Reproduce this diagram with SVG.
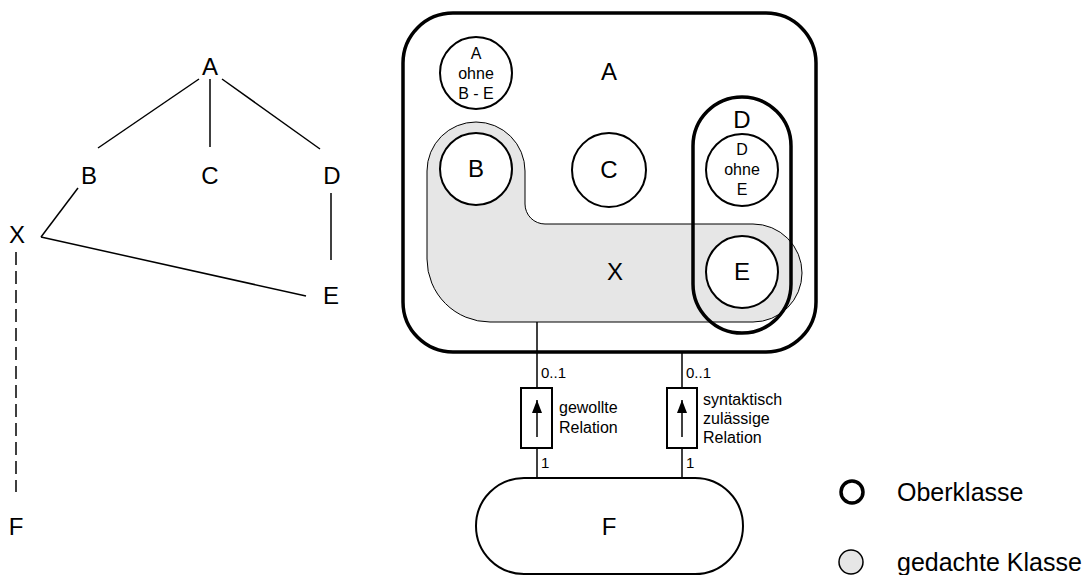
<svg xmlns="http://www.w3.org/2000/svg" width="1089" height="575" viewBox="0 0 1089 575">
<style>
text{font-family:"Liberation Sans",Arial,sans-serif;fill:#000}
.big{font-size:24px;text-anchor:middle}
.sm{font-size:16px;text-anchor:middle}
.lbl{font-size:16px}
.mult{font-size:15px}
.leg{font-size:25px}
.ln{stroke:#000;stroke-width:1.5;fill:none}
.circ{fill:#fff;stroke:#000;stroke-width:2}
.thick{fill:none;stroke:#000;stroke-width:3.5}
</style>
<defs>
<marker id="ah" markerWidth="13" markerHeight="10" refX="13" refY="5" orient="auto" markerUnits="userSpaceOnUse" viewBox="0 0 13 10">
<path d="M0,0 L13,5 L0,10 Z" fill="#000"/>
</marker>
</defs>
<rect width="1089" height="575" fill="#fff"/>

<g id="tree-connectors">
<line class="ln" x1="199" y1="79" x2="98" y2="148"/>
<line class="ln" x1="210" y1="79" x2="210" y2="147"/>
<line class="ln" x1="222" y1="79" x2="320" y2="149"/>
<line class="ln" x1="78" y1="188" x2="41" y2="237"/>
<line class="ln" x1="41" y1="237" x2="306" y2="296"/>
<line class="ln" x1="331" y1="193" x2="331" y2="260"/>
<line class="ln" x1="16" y1="252" x2="16" y2="492" stroke-dasharray="13,6"/>
</g>
<g id="tree-A"><text class="big" x="210" y="75">A</text></g>
<g id="tree-B"><text class="big" x="89" y="184">B</text></g>
<g id="tree-C"><text class="big" x="210" y="184">C</text></g>
<g id="tree-D"><text class="big" x="332" y="184">D</text></g>
<g id="tree-X"><text class="big" x="17" y="243">X</text></g>
<g id="tree-E"><text class="big" x="331" y="304">E</text></g>
<g id="tree-F"><text class="big" x="16" y="535">F</text></g>

<g id="classA">
<rect class="thick" x="403" y="13" width="413" height="339" rx="50"/>
<text class="big" x="609" y="80">A</text>
</g>
<g id="classX">
<path d="M427,171 A49,49 0 0 1 525,171 L525,204 A20,20 0 0 0 545,224 L753,224 A49,49 0 0 1 753,322 L490,322 A63,63 0 0 1 427,259 Z" fill="#e6e6e6" stroke="#000" stroke-width="1"/>
<text class="big" x="615" y="280">X</text>
</g>
<g id="classAohne">
<circle class="circ" cx="476" cy="73" r="36"/>
<text class="sm" x="476" y="59">A</text>
<text class="sm" x="476" y="79">ohne</text>
<text class="sm" x="476" y="99">B - E</text>
</g>
<g id="classB">
<circle class="circ" cx="476" cy="169" r="36"/>
<text class="big" x="476" y="177">B</text>
</g>
<g id="classC">
<circle class="circ" cx="609" cy="170" r="37"/>
<text class="big" x="609" y="178">C</text>
</g>
<g id="classDohne">
<circle class="circ" cx="742" cy="170" r="36"/>
<text class="sm" x="742" y="155">D</text>
<text class="sm" x="742" y="175">ohne</text>
<text class="sm" x="742" y="195">E</text>
</g>
<g id="classE">
<circle class="circ" cx="742" cy="272" r="36"/>
<text class="big" x="742" y="280">E</text>
</g>
<g id="classD">
<rect class="thick" x="693" y="97" width="98" height="236" rx="49"/>
<text class="big" x="742" y="128">D</text>
</g>

<g id="connectors">
<line class="ln" x1="537" y1="322" x2="537" y2="478"/>
<line class="ln" x1="682" y1="352" x2="682" y2="478"/>
<rect x="521" y="388" width="31" height="60" fill="#fff" stroke="#000" stroke-width="2"/>
<rect x="667" y="388" width="30" height="60" fill="#fff" stroke="#000" stroke-width="2"/>
<line class="ln" x1="537" y1="437" x2="537" y2="400" marker-end="url(#ah)"/>
<line class="ln" x1="682" y1="437" x2="682" y2="400" marker-end="url(#ah)"/>
<text class="mult" x="541" y="378">0..1</text>
<text class="mult" x="686" y="378">0..1</text>
<text class="mult" x="541" y="468">1</text>
<text class="mult" x="686" y="468">1</text>
<text class="lbl" x="559" y="413">gewollte</text>
<text class="lbl" x="559" y="433">Relation</text>
<text class="lbl" x="703" y="405">syntaktisch</text>
<text class="lbl" x="703" y="424">zulässige</text>
<text class="lbl" x="703" y="443">Relation</text>
</g>

<g id="classF">
<rect x="476" y="478" width="267" height="96" rx="48" fill="#fff" stroke="#000" stroke-width="2"/>
<text class="big" x="609" y="535">F</text>
</g>

<g id="legend">
<circle cx="852" cy="492" r="11" fill="#fff" stroke="#000" stroke-width="3.5"/>
<text class="leg" x="897" y="501">Oberklasse</text>
<circle cx="851" cy="562" r="12" fill="#e6e6e6" stroke="#000" stroke-width="1.5"/>
<text class="leg" x="897" y="571">gedachte Klasse</text>
</g>
</svg>
